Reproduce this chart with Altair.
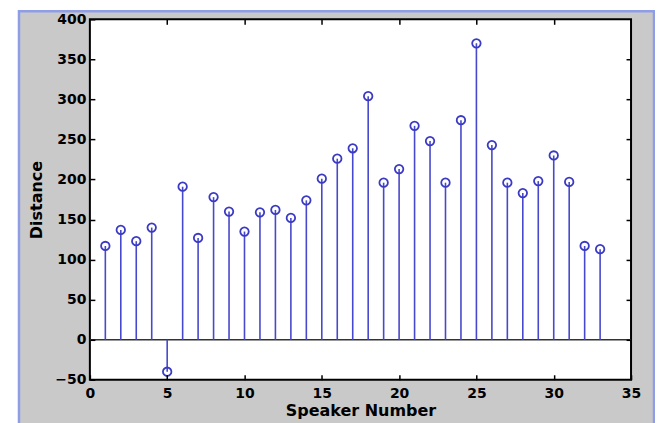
import altair as alt
import pandas as pd

# ---- data ----
speakers = list(range(1, 34))
distances = [117, 137, 123, 140, -40, 191, 127, 178, 160, 135, 159, 162, 152, 174,
             201, 226, 239, 304, 196, 213, 267, 248, 196, 274, 370, 243, 196, 183,
             198, 230, 197, 117, 113]
x_domain = [0, 35]
y_domain = [-50, 400]
x_ticks = [0, 5, 10, 15, 20, 25, 30, 35]
y_ticks = [-50, 0, 50, 100, 150, 200, 250, 300, 350, 400]

df = pd.DataFrame({"speaker": speakers, "distance": distances, "zero": [0] * len(speakers)})
box = pd.DataFrame({"x0": [x_domain[0]], "x1": [x_domain[1]],
                    "y0": [y_domain[0]], "y1": [y_domain[1]]})
base = pd.DataFrame({"x0": [x_domain[0]], "x1": [x_domain[1]], "y": [0]})

W, H = 542, 361
FONT = "DejaVu Sans"
xs = alt.Scale(domain=x_domain, nice=False, zero=False)
ys = alt.Scale(domain=y_domain, nice=False, zero=False)

common = dict(offset=-5, tickSize=5, tickWidth=1.5, tickColor="black", domain=False,
              grid=False, zindex=1, labelFlush=False, labelOverlap=False)

frame = alt.Chart(box).mark_rect(fill="#c9c9c9", stroke="#8f9de6", strokeWidth=2.5).encode(
    x=alt.value(-71), x2=alt.value(565), y=alt.value(-8), y2=alt.value(430))

plot_bg = alt.Chart(box).mark_rect(fill="white", stroke="black", strokeWidth=2).encode(
    x=alt.X("x0:Q", scale=xs, axis=None), x2="x1",
    y=alt.Y("y0:Q", scale=ys, axis=None), y2="y1")

baseline = alt.Chart(base).mark_rule(color="#333333", strokeWidth=1.5).encode(
    x=alt.X("x0:Q", scale=xs, axis=None), x2="x1",
    y=alt.Y("y:Q", scale=ys, axis=None))

stems = alt.Chart(df).mark_rule(color="#4848cc", strokeWidth=1.6).encode(
    x=alt.X("speaker:Q", scale=xs,
            axis=alt.Axis(orient="bottom", values=x_ticks, title="Speaker Number",
                          labelPadding=7, titlePadding=2, **common)),
    y=alt.Y("distance:Q", scale=ys,
            axis=alt.Axis(orient="left", values=y_ticks, title="Distance",
                          labelPadding=4, titlePadding=10, **common)),
    y2="zero")

points = alt.Chart(df).mark_point(shape="circle", filled=False, color="#3a3ac4",
                                  size=72, strokeWidth=1.8, opacity=1).encode(
    x=alt.X("speaker:Q", scale=xs,
            axis=alt.Axis(orient="top", values=x_ticks[1:-1], labels=False, title="", **common)),
    y=alt.Y("distance:Q", scale=ys,
            axis=alt.Axis(orient="right", values=y_ticks[1:-1], labels=False, title="", **common)))

chart = alt.layer(frame, plot_bg, baseline, stems, points).properties(
    width=W, height=H,
    padding={"left": 82, "top": 11, "right": 24, "bottom": 43},
    autosize=alt.AutoSizeParams(type="none"),
    background="white",
).configure_view(strokeWidth=0).configure_axis(
    labelFont=FONT, labelFontSize=14, labelFontWeight="bold", labelColor="black",
    titleFont=FONT, titleFontSize=16, titleFontWeight="bold", titleColor="black",
)

chart.save("out.html", embed_options={"renderer": "svg", "actions": False})
